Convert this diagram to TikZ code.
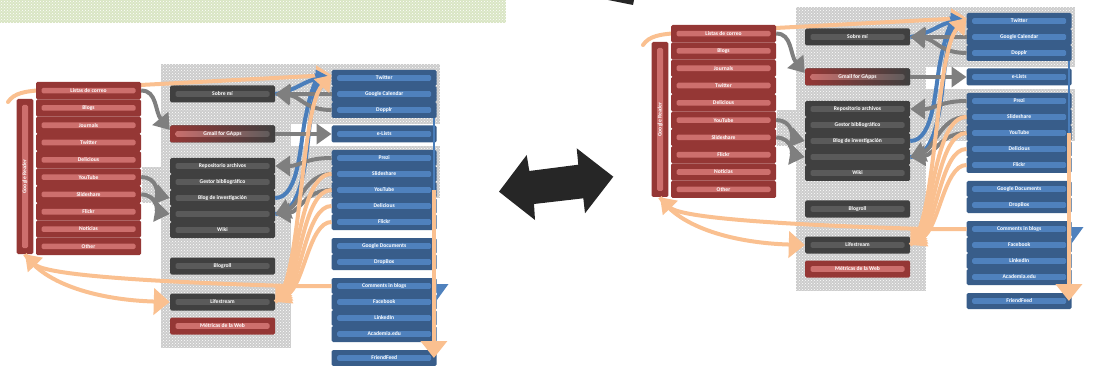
\documentclass[tikz,border=0pt]{standalone}
\usepackage{graphicx}
\usepackage{fontspec}
\setmainfont{Carlito}
\usetikzlibrary{arrows.meta,patterns}

\definecolor{rojo}{HTML}{953735}
\definecolor{rojoclaro}{HTML}{CD6F6D}
\definecolor{gris}{HTML}{404040}
\definecolor{grisclaro}{HTML}{5A5A5A}
\definecolor{azul}{HTML}{385D8A}
\definecolor{azulclaro}{HTML}{4F81BD}
\definecolor{naranja}{HTML}{FAC090}
\definecolor{grisflecha}{HTML}{7F7F7F}
\definecolor{azulflecha}{HTML}{4A7EBB}
\definecolor{fondogris}{HTML}{CCCCCC}
\definecolor{fondoverde}{HTML}{D9E5C4}
\definecolor{negro}{HTML}{262626}

\newcommand{\letra}{\fontsize{5.6}{6.5}\selectfont\bfseries}

\tikzset{
	caja/.style 2 args={fill=#1, rounded corners=1.5pt, minimum width=105pt, minimum height=16pt, inner sep=0pt, text=white, font=\letra,
		path picture={\fill[#2] ([xshift=5.5pt,yshift=-2.8pt]path picture bounding box.west) rectangle ([xshift=-5.5pt,yshift=2.8pt]path picture bounding box.east);}},
	itemrojo/.style={caja={rojo}{rojoclaro}, minimum height=17.3pt},
	itemgris/.style={caja={gris}{grisclaro}},
	itemazul/.style={caja={azul}{azulclaro}},
	flechagris/.style={draw=grisflecha, line width=4pt, -{Triangle[width=20pt,length=15pt]}},
	flechanaranja/.style={draw=naranja, line width=4pt, -{Triangle[width=20pt,length=15pt]}},
	flechaazul/.style={draw=azulflecha, line width=4pt, -{Triangle[width=18pt,length=15pt]}},
	trama/.style={fill=fondogris, postaction={pattern=crosshatch dots, pattern color=white}}
}

\newcommand{\mapa}{
	% fondo
	\path[trama] (161,64) rectangle (291,348);
	\path[trama] (291,64) rectangle (440,124);
	\path[trama] (291,146) rectangle (440,198);
	\path[trama] (142,167) rectangle (161,203);
	
	% servicios
	\node[itemazul] (twitter) at (384.2,78) {Twitter};
	\node[itemazul] (calendar) at (384.2,94) {Google Calendar};
	\node[itemazul] (dopplr) at (384.2,110) {Dopplr};
	\node[itemazul, minimum height=17pt] (elists) at (384.2,134) {e-Lists};
	\node[itemazul] (prezi) at (384.2,158) {Prezi};
	\node[itemazul] (slideshare) at (384.2,174) {Slideshare};
	\node[itemazul] (youtube) at (384.2,190) {YouTube};
	\node[itemazul] (delicious) at (384.2,206) {Delicious};
	\node[itemazul] (flickr) at (384.2,222) {Flickr};
	\node[itemazul] (gdocs) at (384.2,246) {Google Documents};
	\node[itemazul] (dropbox) at (384.2,262) {DropBox};
	\node[itemazul] (comments) at (384.2,286) {Comments in blogs};
	\node[itemazul] (facebook) at (384.2,302) {Facebook};
	\node[itemazul] (linkedin) at (384.2,318) {LinkedIn};
	\node[itemazul] (academia) at (384.2,334) {Academia.edu};
	\node[itemazul] (friendfeed) at (384.2,358) {FriendFeed};
	
	% centro
	\node[itemgris, minimum height=17pt] (sobre) at (222.5,94) {Sobre mí};
	\node[itemgris, minimum height=17pt, left color=rojo, middle color=rojo!65!gris, right color=gris,
		path picture={\shade[left color=rojoclaro, right color=grisclaro] ([xshift=5.5pt,yshift=-2.8pt]path picture bounding box.west) rectangle ([xshift=-5.5pt,yshift=2.8pt]path picture bounding box.east);}] (gmail) at (222.5,134) {Gmail for GApps};
	\node[itemgris] (repositorio) at (222.5,166) {Repositorio archivos};
	\node[itemgris] (gestor) at (222.5,182) {Gestor bibliográfico};
	\node[itemgris] (blog) at (222.5,198) {Blog de investigación};
	\node[itemgris] (vacio) at (222.5,214) {};
	\node[itemgris] (wiki) at (222.5,230) {Wiki};
	\node[itemgris, minimum height=17pt] (blogroll) at (222.5,266) {Blogroll};
	\node[itemgris, minimum height=17pt] (lifestream) at (222.5,302) {Lifestream};
	\node[itemrojo, minimum height=17pt] (metricas) at (222.5,326) {Métricas de la Web};
	
	\node[fill=rojo, rounded corners=1.5pt, minimum width=16.6pt, minimum height=155pt, inner sep=0pt, text=white, font=\letra,
		path picture={\fill[rojoclaro] ([xshift=-3pt,yshift=-71.5pt]path picture bounding box.center) rectangle ([xshift=3pt,yshift=71.5pt]path picture bounding box.center);}] (lector) at (25,176.5) {\rotatebox{90}{Google Reader}};
	
	\coordinate (inicio) at (8,102);
	\draw[flechanaranja, line cap=round] (inicio) .. controls (14,93) and (25,91) .. (45,90) -- ([yshift=3pt]twitter.west);
	
	% fuentes
	\node[itemrojo] (listas) at (88.5,90.65) {Listas de correo};
	\node[itemrojo] (blogs) at (88.5,107.95) {Blogs};
	\node[itemrojo] (journals) at (88.5,125.25) {Journals};
	\node[itemrojo] (tw) at (88.5,142.55) {Twitter};
	\node[itemrojo] (del) at (88.5,159.85) {Delicious};
	\node[itemrojo] (yt) at (88.5,177.15) {YouTube};
	\node[itemrojo] (ss) at (88.5,194.45) {Slideshare};
	\node[itemrojo] (fl) at (88.5,211.75) {Flickr};
	\node[itemrojo] (noticias) at (88.5,229.05) {Noticias};
	\node[itemrojo] (otros) at (88.5,246.35) {Other};
	
	% flechas azules
	\draw[flechaazul] (sobre.east) .. controls (298,90) and (305,80) .. (twitter.west);
	\draw[flechaazul] (blog.east) .. controls (300,198) and (300,140) .. (306,115) .. controls (310,95) and (315,80) .. (twitter.west);
	\draw[flechaazul] (vacio.east) .. controls (305,214) and (306,150) .. (311,115) .. controls (314,95) and (318,82) .. (twitter.west);
	
	% flechas grises
	\draw[flechagris] (listas.east) .. controls (157,90) and (155,112) .. ([yshift=4pt]gmail.west);
	\draw[flechagris] (yt.east) .. controls (158,177) and (158,195) .. (blog.west);
	\draw[flechagris] (ss.east) .. controls (158,195) and (158,212) .. (vacio.west);
	\draw[flechagris] (gmail.east) -- (elists.west);
	\draw[flechagris] (calendar.west) -- (sobre.east);
	\draw[flechagris] (dopplr.west) .. controls (305,110) and (300,96) .. (sobre.east);
	\draw[flechagris] (prezi.west) .. controls (305,158) and (300,166) .. (repositorio.east);
	\draw[flechagris] (slideshare.west) .. controls (305,174) and (300,205) .. (vacio.east);
	\draw[flechagris] (youtube.west) .. controls (305,190) and (300,212) .. (vacio.east);
	
	% flechas naranjas
	\draw[flechanaranja] (slideshare.west) .. controls (300,174) and (298,270) .. (lifestream.east);
	\draw[flechanaranja] (youtube.west) .. controls (303,190) and (300,275) .. (lifestream.east);
	\draw[flechanaranja] (delicious.west) .. controls (306,206) and (302,280) .. (lifestream.east);
	\draw[flechanaranja] (flickr.west) .. controls (309,222) and (304,285) .. (lifestream.east);
	\draw[flechanaranja] (lifestream.east) .. controls (302,280) and (300,110) .. ([yshift=3pt]twitter.west);
	\draw[flechanaranja] (comments.west) -- (290,286) .. controls (150,282) and (45,275) .. (lector.south);
	\draw[flechanaranja, -{Triangle[width=26pt,length=16pt]}] (lector.south) .. controls (45,285) and (100,300) .. (lifestream.west);
	
	\draw[azulflecha, line width=2.5pt] ([xshift=-3pt]dopplr.south east) -- ([xshift=-3pt]youtube.east);
	\draw[flechanaranja, -{Triangle[width=26pt,length=17pt]}] ([xshift=-3pt]youtube.east) -- ([xshift=-3pt]friendfeed.east);
	\fill[azulclaro] (comments.east) ++(0,-2) -- ++(11.6,0) -- ++(-11.6,16) -- cycle;
}

\begin{document}
\begin{tikzpicture}[x=1pt,y=-1pt]
	%%%%% START %%%%%
	\useasboundingbox (0,0) rectangle (1097,366);
	
	\path[fill=fondoverde, postaction={pattern=crosshatch dots, pattern color=white}] (0,0) rectangle (506,23);
	\fill[negro] (608,0) -- (634,0) -- (633,5) -- (628,4) -- cycle;
	
	\begin{scope}[name prefix=izq-]
		\mapa
	\end{scope}
	
	\begin{scope}[name prefix=der-, shift={(635,-57)}]
		\mapa
	\end{scope}
	
	\fill[negro] (499,191.7) -- (526.7,155) -- (529.3,171) -- (578.3,164.7) -- (576.7,148.3) -- (613.3,176.7) -- (585,213.3) -- (583.3,198.3) -- (534,204) -- (535,220) -- cycle;
	%%%%% END %%%%%
\end{tikzpicture}
\end{document}
